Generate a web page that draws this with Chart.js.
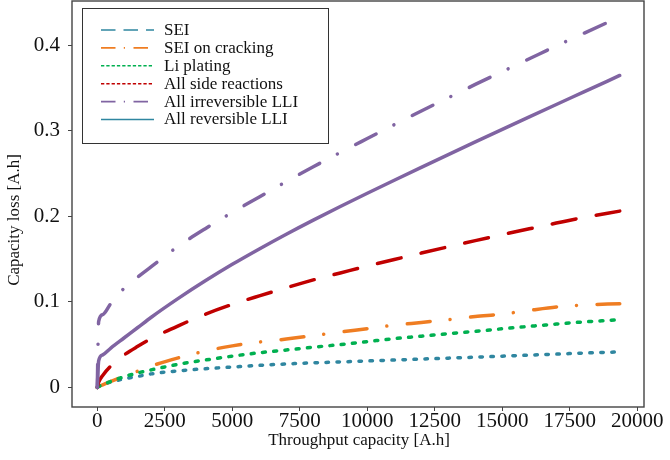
<!DOCTYPE html>
<html><head><meta charset="utf-8">
<script src="https://cdn.jsdelivr.net/npm/chart.js@4/dist/chart.umd.min.js"></script>
<style>html,body{margin:0;padding:0;background:#fff}canvas{display:block}</style>
</head><body>
<canvas id="c" width="670" height="460"></canvas>
<script>
// ---- data ----
const throughput = [0,50,200,500,1000,1500,2000,3000,4000,5000,6000,7000,8000,9000,10000,11000,12000,13000,14000,15000,16000,17000,18000,19350];
const sei = [0,0.001,0.003,0.0062,0.0100,0.0128,0.0158,0.0193,0.0218,0.0238,0.0258,0.0274,0.0287,0.0298,0.0309,0.0320,0.0331,0.0342,0.0353,0.0365,0.0377,0.0389,0.0401,0.0415];
const seiCracking = [0,0.001,0.003,0.007,0.013,0.019,0.025,0.0345,0.0425,0.0485,0.053,0.0565,0.0605,0.0648,0.0686,0.0727,0.0759,0.0792,0.0828,0.0857,0.090,0.094,0.0962,0.0978];
const liPlating = [0,0.001,0.003,0.007,0.0125,0.017,0.0205,0.027,0.032,0.0365,0.0405,0.0437,0.047,0.050,0.0535,0.057,0.0598,0.0628,0.0655,0.0685,0.0713,0.074,0.0765,0.079];
const sideReactions = [0,0.006,0.014,0.025,0.038,0.048,0.057,0.072,0.0855,0.097,0.107,0.1165,0.1256,0.1337,0.1418,0.1495,0.157,0.1643,0.1715,0.1785,0.1853,0.192,0.1985,0.206];
const irreversibleLLI = [0,0.077,0.085,0.098,0.116,0.129,0.141,0.165,0.1855,0.2045,0.2225,0.2405,0.2578,0.2745,0.2908,0.307,0.323,0.3385,0.354,0.369,0.384,0.399,0.4135,0.433];
const reversibleLLI = [0,0.031,0.038,0.046,0.058,0.070,0.082,0.104,0.1245,0.1438,0.1618,0.1790,0.1955,0.2114,0.2269,0.2421,0.2571,0.2720,0.2868,0.3015,0.3161,0.3306,0.3450,0.3645];
const seriesNames = ['SEI','SEI on cracking','Li plating','All side reactions','All irreversible LLI','All reversible LLI'];
const xTicks = [0,2500,5000,7500,10000,12500,15000,17500,20000];
const xTickLabels = ['0','2500','5000','7500','10000','12500','15000','17500','20000'];
const yTicks = [0,0.1,0.2,0.3,0.4];
const yTickLabels = ['0','0.1','0.2','0.3','0.4'];
const xTitle = 'Throughput capacity [A.h]';
const yTitle = 'Capacity loss [A.h]';

// ---- styles ----
const FONT = "'Liberation Serif', 'Times New Roman', serif";
const TEXT = '#111111';
const seriesValues = [sei, seiCracking, liPlating, sideReactions, irreversibleLLI, reversibleLLI];
const lineColors = ['#2f86a0','#ef7d22','#00b050','#c00000','#8064a2','#8064a2'];
const lineDashes = [[2.5,8.5],[23,20,0.01,20.6],[3,8.3],[24.3,20.5],[23,20,0.01,20.6],[]];
const legendColors = ['#2f86a0','#ef7d22','#00b050','#c00000','#8064a2','#2f86a0'];
const legendDashes = [[14.5,8],[14.5,8.3,1.2,8.5],[3.3,2],[3.3,2],[14.5,8.3,1.2,8.5],[]];

const datasets = seriesValues.map((vals, i) => ({
  label: seriesNames[i],
  data: throughput.map((x, j) => ({x: x, y: vals[j]})),
  borderColor: lineColors[i],
  backgroundColor: lineColors[i],
  borderWidth: 3.5,
  borderDash: lineDashes[i],
  borderCapStyle: 'round',
  borderJoinStyle: 'round',
  pointRadius: 0,
  fill: false,
  cubicInterpolationMode: 'monotone',
  order: 6 - i
}));

const decor = {
  id: 'decor',
  afterDraw(chart) {
    const ctx = chart.ctx, a = chart.chartArea;
    ctx.save();
    // frame
    ctx.strokeStyle = '#444';
    ctx.lineWidth = 1.4;
    ctx.setLineDash([]);
    ctx.strokeRect(a.left, a.top, a.right - a.left, a.bottom - a.top);
    // axis titles
    ctx.fillStyle = TEXT;
    ctx.font = '17px ' + FONT;
    ctx.textAlign = 'center';
    ctx.textBaseline = 'alphabetic';
    ctx.fillText(xTitle, (a.left + a.right) / 2 + 1, 445);
    ctx.save();
    ctx.translate(18.5, 220);
    ctx.rotate(-Math.PI / 2);
    ctx.fillText(yTitle, 0, 0);
    ctx.restore();
    // legend
    const bx = 82.5, by = 8.5, bw = 246, bh = 135;
    ctx.fillStyle = '#fff';
    ctx.fillRect(bx, by, bw, bh);
    ctx.strokeStyle = '#333';
    ctx.lineWidth = 1;
    ctx.strokeRect(bx, by, bw, bh);
    ctx.font = '17px ' + FONT;
    ctx.textAlign = 'left';
    ctx.textBaseline = 'middle';
    for (let i = 0; i < seriesNames.length; i++) {
      const y = 30 + i * 17.9;
      ctx.strokeStyle = legendColors[i];
      ctx.lineWidth = 1.6;
      ctx.lineCap = 'butt';
      ctx.setLineDash(legendDashes[i]);
      ctx.beginPath();
      ctx.moveTo(101, y);
      ctx.lineTo(154, y);
      ctx.stroke();
      ctx.setLineDash([]);
      ctx.fillStyle = TEXT;
      ctx.fillText(seriesNames[i], 164, y + 0.5);
    }
    ctx.restore();
  }
};

new Chart(document.getElementById('c'), {
  type: 'line',
  data: { datasets: datasets },
  options: {
    responsive: false,
    animation: false,
    devicePixelRatio: 1,
    layout: { padding: { left: 0, right: 26, top: 1, bottom: 0 } },
    plugins: { legend: { display: false }, tooltip: { enabled: false } },
    scales: {
      x: {
        type: 'linear',
        min: -937, max: 20248,
        afterBuildTicks: s => { s.ticks = xTicks.map(v => ({value: v})); },
        afterFit: s => { s.height = 53; s.paddingLeft = 0; s.paddingRight = 0; },
        border: { display: false },
        grid: { display: true, drawOnChartArea: false, drawTicks: true, tickLength: 4, color: '#444', tickWidth: 1 },
        ticks: { callback: (v, i) => xTickLabels[i], font: { family: FONT, size: 21 }, color: TEXT, padding: -2, maxRotation: 0, autoSkip: false }
      },
      y: {
        type: 'linear',
        min: -0.0229, max: 0.4515,
        afterBuildTicks: s => { s.ticks = yTicks.map(v => ({value: v})); },
        afterFit: s => { s.width = 72; s.paddingTop = 0; s.paddingBottom = 0; },
        border: { display: false },
        grid: { display: true, drawOnChartArea: false, drawTicks: true, tickLength: 4, color: '#444', tickWidth: 1 },
        ticks: { callback: (v, i) => yTickLabels[i], font: { family: FONT, size: 21 }, color: TEXT, padding: 8, autoSkip: false }
      }
    }
  },
  plugins: [decor]
});
</script>
</body></html>
